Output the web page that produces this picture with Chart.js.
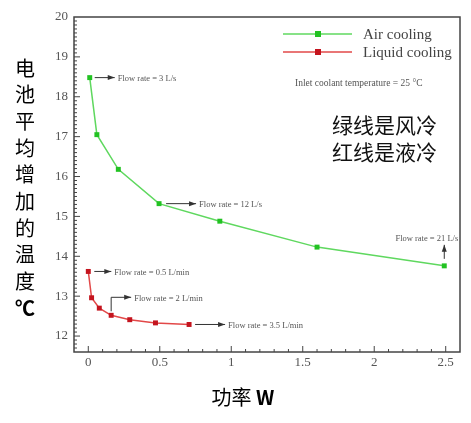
<!DOCTYPE html>
<html>
<head>
<meta charset="utf-8">
<script src="https://cdn.jsdelivr.net/npm/chart.js@4"></script>
<style>
  html, body { margin: 0; padding: 0; background: #fff; }
  #chart { display: block; }
</style>
</head>
<body>
<canvas id="chart" width="471" height="423"></canvas>
<script>
// air cooling (green) and liquid cooling (red), power W vs temperature rise
const airPower = [0.01, 0.06, 0.21, 0.495, 0.92, 1.6, 2.49];
const airTemp = [18.48, 17.05, 16.18, 15.32, 14.88, 14.23, 13.76];
const liquidPower = [0.0, 0.023, 0.077, 0.16, 0.29, 0.47, 0.705];
const liquidTemp = [13.62, 12.96, 12.7, 12.52, 12.41, 12.33, 12.29];

const xTickValues = [0, 0.5, 1, 1.5, 2, 2.5];
const yTickValues = [12, 13, 14, 15, 16, 17, 18, 19, 20];

const seriesNames = ["Air cooling", "Liquid cooling"];
const inletNote = "Inlet coolant temperature = 25 °C";
const noteLines = ["绿线是风冷", "红线是液冷"];
const yTitleChars = ["电", "池", "平", "均", "增", "加", "的", "温", "度", "℃"];
const xTitle = ["功率 ", "W"];

const SERIF = '"Liberation Serif", "DejaVu Serif", serif';
const CJK = '"Noto Sans CJK SC", "Noto Sans", sans-serif';

function toPoints(xs, ys) {
  return xs.map((v, i) => ({ x: v, y: ys[i] }));
}

function arrow(ctx, x1, y1, x2, y2) {
  const ang = Math.atan2(y2 - y1, x2 - x1);
  ctx.beginPath();
  ctx.moveTo(x1, y1);
  ctx.lineTo(x2, y2);
  ctx.stroke();
  ctx.beginPath();
  ctx.moveTo(x2, y2);
  ctx.lineTo(x2 - 7 * Math.cos(ang) + 2.5 * Math.sin(ang), y2 - 7 * Math.sin(ang) - 2.5 * Math.cos(ang));
  ctx.lineTo(x2 - 7 * Math.cos(ang) - 2.5 * Math.sin(ang), y2 - 7 * Math.sin(ang) + 2.5 * Math.cos(ang));
  ctx.closePath();
  ctx.fill();
}

// frame, inward ticks, legend, flow-rate notes and the titles
const overlay = {
  id: "overlay",
  afterDraw(chart) {
    const { ctx, chartArea: a, scales } = chart;
    const x = scales.x, y = scales.y;
    ctx.save();

    // box
    ctx.strokeStyle = "#444";
    ctx.lineWidth = 1.5;
    ctx.strokeRect(a.left, a.top, a.right - a.left, a.bottom - a.top);

    // inward ticks
    ctx.lineWidth = 1;
    for (let v = 0; v <= 2.6; v += 0.1) {
      const px = x.getPixelForValue(v);
      const major = Math.abs(v * 2 - Math.round(v * 2)) < 0.01;
      ctx.beginPath();
      ctx.moveTo(px, a.bottom);
      ctx.lineTo(px, a.bottom - (major ? 6 : 3));
      ctx.stroke();
    }
    for (let v = 11.7; v <= 20; v += 0.1) {
      const py = y.getPixelForValue(v);
      const major = Math.abs(v - Math.round(v)) < 0.01;
      ctx.beginPath();
      ctx.moveTo(a.left, py);
      ctx.lineTo(a.left + (major ? 6 : 3), py);
      ctx.stroke();
    }

    // legend
    const legendColors = [["#5fd85f", "#22c222"], ["#e24848", "#c4141e"]];
    ctx.font = "15px " + SERIF;
    ctx.textBaseline = "middle";
    ctx.textAlign = "left";
    seriesNames.forEach((name, i) => {
      const ly = a.top + 17 + i * 18;
      ctx.strokeStyle = legendColors[i][0];
      ctx.lineWidth = 1.5;
      ctx.beginPath();
      ctx.moveTo(a.right - 177, ly);
      ctx.lineTo(a.right - 108, ly);
      ctx.stroke();
      ctx.fillStyle = legendColors[i][1];
      ctx.fillRect(a.right - 145, ly - 3, 6, 6);
      ctx.fillStyle = "#444";
      ctx.fillText(name, a.right - 97, ly + 1);
    });

    ctx.font = "9.5px " + SERIF;
    ctx.fillStyle = "#555";
    ctx.fillText(inletNote, a.right - 165, a.top + 66);

    // flow-rate notes
    ctx.font = "8.5px " + SERIF;
    ctx.strokeStyle = "#333";
    ctx.fillStyle = "#333";
    ctx.lineWidth = 1;
    const ap = (i) => [x.getPixelForValue(airPower[i]), y.getPixelForValue(airTemp[i])];
    const lp = (i) => [x.getPixelForValue(liquidPower[i]), y.getPixelForValue(liquidTemp[i])];
    let p;

    p = ap(0);
    arrow(ctx, p[0] + 5, p[1], p[0] + 25, p[1]);
    ctx.fillStyle = "#555";
    ctx.fillText("Flow rate = 3 L/s", p[0] + 28, p[1] + 1);

    p = ap(3);
    ctx.fillStyle = "#333";
    arrow(ctx, p[0] + 7, p[1], p[0] + 37, p[1]);
    ctx.fillStyle = "#555";
    ctx.fillText("Flow rate = 12 L/s", p[0] + 40, p[1] + 1);

    p = ap(6);
    ctx.fillStyle = "#333";
    arrow(ctx, p[0], p[1] - 7, p[0], p[1] - 21);
    ctx.fillStyle = "#555";
    ctx.textAlign = "right";
    ctx.fillText("Flow rate = 21 L/s", p[0] + 14, p[1] - 27);
    ctx.textAlign = "left";

    p = lp(0);
    ctx.fillStyle = "#333";
    arrow(ctx, p[0] + 6, p[1], p[0] + 23, p[1]);
    ctx.fillStyle = "#555";
    ctx.fillText("Flow rate = 0.5 L/min", p[0] + 26, p[1] + 1);

    p = lp(3);
    ctx.fillStyle = "#333";
    ctx.beginPath();
    ctx.moveTo(p[0], p[1] - 4);
    ctx.lineTo(p[0], p[1] - 18);
    ctx.stroke();
    arrow(ctx, p[0], p[1] - 18, p[0] + 20, p[1] - 18);
    ctx.fillStyle = "#555";
    ctx.fillText("Flow rate = 2 L/min", p[0] + 23, p[1] - 17);

    p = lp(6);
    ctx.fillStyle = "#333";
    arrow(ctx, p[0] + 6, p[1], p[0] + 36, p[1]);
    ctx.fillStyle = "#555";
    ctx.fillText("Flow rate = 3.5 L/min", p[0] + 39, p[1] + 1);

    // chinese note
    ctx.font = "21px " + CJK;
    ctx.fillStyle = "#111";
    noteLines.forEach((t, i) => ctx.fillText(t, a.right - 128, a.top + 108 + i * 27));

    // y title, one character per line
    ctx.textAlign = "center";
    ctx.fillStyle = "#000";
    yTitleChars.forEach((c, i) => {
      ctx.font = (i === yTitleChars.length - 1 ? "bold " : "") + "20px " + CJK;
      ctx.fillText(c, 25, 68 + i * 26.7);
    });

    // x title
    ctx.textAlign = "left";
    ctx.font = "20px " + CJK;
    const w1 = ctx.measureText(xTitle[0]).width;
    ctx.font = "bold 20px " + CJK;
    const w2 = ctx.measureText(xTitle[1]).width;
    const sx = 243 - (w1 + w2) / 2;
    ctx.font = "20px " + CJK;
    ctx.fillText(xTitle[0], sx, 397);
    ctx.font = "bold 20px " + CJK;
    ctx.fillText(xTitle[1], sx + w1, 397);

    ctx.restore();
  }
};

new Chart(document.getElementById("chart").getContext("2d"), {
  type: "line",
  data: {
    datasets: [
      {
        label: seriesNames[0],
        data: toPoints(airPower, airTemp),
        borderColor: "#5fd85f",
        backgroundColor: "#22c222",
        borderWidth: 1.5,
        pointStyle: "rect",
        pointRadius: 3.5,
        pointBorderWidth: 0,
        tension: 0,
      },
      {
        label: seriesNames[1],
        data: toPoints(liquidPower, liquidTemp),
        borderColor: "#e24848",
        backgroundColor: "#c4141e",
        borderWidth: 1.5,
        pointStyle: "rect",
        pointRadius: 3.5,
        pointBorderWidth: 0,
        tension: 0,
      },
    ],
  },
  options: {
    responsive: false,
    animation: false,
    layout: { padding: { top: 17, right: 11, left: 0, bottom: 0 } },
    plugins: {
      legend: { display: false },
      tooltip: { enabled: false },
    },
    scales: {
      x: {
        type: "linear",
        min: -0.1,
        max: 2.6,
        afterBuildTicks: (s) => { s.ticks = xTickValues.map((v) => ({ value: v })); },
        afterFit: (s) => { s.height = 71; },
        grid: { drawOnChartArea: false, drawTicks: false },
        border: { display: false },
        ticks: {
          padding: 3,
          color: "#555",
          font: { family: SERIF, size: 13 },
          maxRotation: 0,
          callback: (v) => String(v),
        },
      },
      y: {
        type: "linear",
        min: 11.6,
        max: 20,
        afterBuildTicks: (s) => { s.ticks = yTickValues.map((v) => ({ value: v })); },
        afterFit: (s) => { s.width = 74; },
        grid: { drawOnChartArea: false, drawTicks: false },
        border: { display: false },
        ticks: {
          padding: 6,
          color: "#555",
          font: { family: SERIF, size: 13 },
          callback: (v) => String(v),
        },
      },
    },
  },
  plugins: [overlay],
});
</script>
</body>
</html>
